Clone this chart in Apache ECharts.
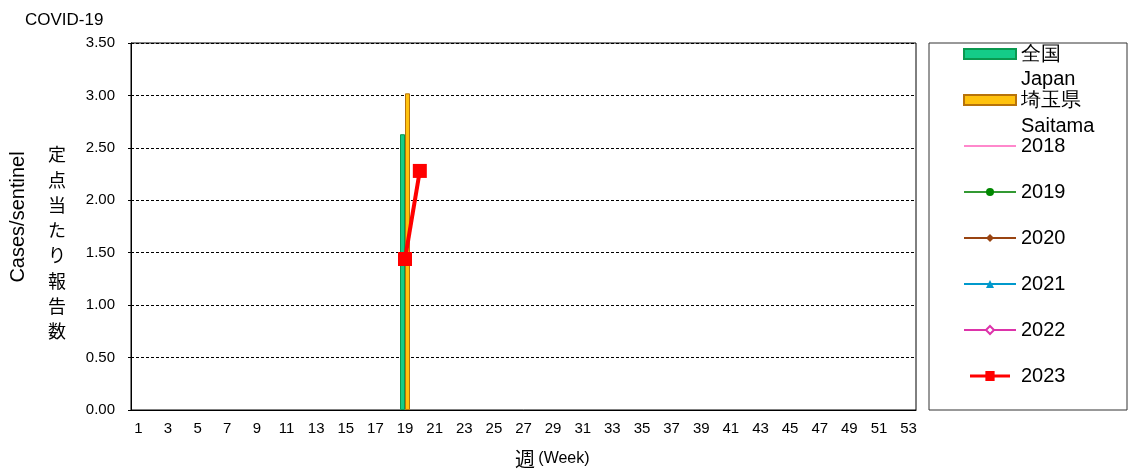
<!DOCTYPE html>
<html><head><meta charset="utf-8">
<script src="https://cdn.jsdelivr.net/npm/echarts@6/dist/echarts.min.js"></script>
<style>html,body{margin:0;padding:0;background:#fff}#c{width:1130px;height:472px}</style>
</head><body><div id="c"></div>
<script>
const weeks = Array.from({length:53},(_,i)=>String(i+1));
const japan = {19: 2.63};
const saitama = {19: 3.02};
const y2023 = {19: 1.44, 20: 2.28};
function toSeries(obj){ return weeks.map(w => obj[w] !== undefined ? obj[w] : null); }

const font = '"Liberation Sans", Arial, sans-serif';
const jp = '"Noto Sans CJK JP", sans-serif';
const chart = echarts.init(document.getElementById('c'));
const plus = 'path://M0,5L10,5M5,0L5,10';
const redIcon = 'path://M0,4.5L20,4.5L20,0L32,0L32,4.5L52,4.5L52,8.5L32,8.5L32,13L20,13L20,8.5L0,8.5Z';
chart.setOption({
  animation:false,
  textStyle:{fontFamily:font},
  title:{text:'COVID-19',left:20,top:7,textStyle:{fontSize:17,fontWeight:'normal',color:'#000',fontFamily:font}},
  grid:{left:131,right:214,top:43,bottom:62,outerBoundsMode:'none',containLabel:false,show:true,borderColor:'#000',borderWidth:1,backgroundColor:'#fff'},
  xAxis:{type:'category',data:weeks,
    axisLine:{lineStyle:{color:'#000'}},
    axisTick:{inside:true,length:4,lineStyle:{color:'#000'}},
    axisLabel:{interval:1,color:'#000',fontSize:15,margin:11,fontFamily:font}
  },
  yAxis:{type:'value',min:0,max:3.5,interval:0.5,
    axisLine:{show:true,lineStyle:{color:'#000'}},
    axisTick:{show:true,length:3,lineStyle:{color:'#000'}},
    axisLabel:{color:'#000',fontSize:15,margin:16,fontFamily:font,formatter:v=>v.toFixed(2)},
    splitLine:{lineStyle:{color:'#000',type:[3,2],width:1}}
  },
  legend:{orient:'vertical',left:958,top:38,itemWidth:52,itemHeight:10,itemGap:24,
    textStyle:{fontSize:20,color:'#000',lineHeight:22,fontFamily:font},
    data:[
      {name:'全国',icon:'rect'},
      {name:'埼玉県',icon:'rect'},
      '2018','2019','2020','2021','2022',
      {name:'2023',icon:redIcon}
    ]},
  graphic:[
    {type:'rect',shape:{x:929,y:43,width:198,height:367},style:{fill:'none',stroke:'#333',lineWidth:1}},
    {type:'text',x:1021,y:79,style:{text:'Japan',fontSize:20,fill:'#000',fontFamily:font,verticalAlign:'middle'}},
    {type:'text',x:1021,y:126,style:{text:'Saitama',fontSize:20,fill:'#000',fontFamily:font,verticalAlign:'middle'}},
    {type:'text',x:57,y:243,style:{text:'定\n点\n当\nた\nり\n報\n告\n数',fontSize:18,lineHeight:25.3,fill:'#000',fontFamily:jp,align:'center',verticalAlign:'middle'}},
    {type:'text',x:8,y:217,rotation:Math.PI/2,style:{text:'Cases/sentinel',fontSize:20,fill:'#000',align:'center',verticalAlign:'top',fontFamily:font}},
    {type:'text',x:515,y:459,style:{text:'{a|週} {b|(Week)}',verticalAlign:'middle',rich:{a:{fontSize:20,fill:'#000',fontFamily:jp},b:{fontSize:16,fill:'#000',fontFamily:font}}}}
  ],
  series:[
    {name:'全国',type:'bar',data:toSeries(japan),barWidth:5,barGap:'0%',itemStyle:{color:'#14CC88',borderColor:'#0A9950',borderWidth:1}},
    {name:'埼玉県',type:'bar',data:toSeries(saitama),barWidth:5,barGap:'0%',itemStyle:{color:'#FFC20E',borderColor:'#B8730A',borderWidth:1}},
    {name:'2018',type:'line',data:[],symbol:plus,symbolSize:9,itemStyle:{color:'#FF88CC'},lineStyle:{color:'#FF88CC',width:1.5}},
    {name:'2019',type:'line',data:[],symbol:'circle',symbolSize:9,itemStyle:{color:'#008800'},lineStyle:{color:'#339933',width:1.5}},
    {name:'2020',type:'line',data:[],symbol:'diamond',symbolSize:9,itemStyle:{color:'#994411'},lineStyle:{color:'#994411',width:1.5}},
    {name:'2021',type:'line',data:[],symbol:'triangle',symbolSize:9,itemStyle:{color:'#0099CC'},lineStyle:{color:'#0099CC',width:1.5}},
    {name:'2022',type:'line',data:[],symbol:'emptyDiamond',symbolSize:9,itemStyle:{color:'#DD33AA',borderColor:'#DD33AA'},lineStyle:{color:'#DD33AA',width:1.5}},
    {name:'2023',type:'line',data:toSeries(y2023),symbol:'rect',symbolSize:14,showAllSymbol:true,connectNulls:false,itemStyle:{color:'#FF0000'},lineStyle:{color:'#FF0000',width:4}}
  ]
});
</script></body></html>
